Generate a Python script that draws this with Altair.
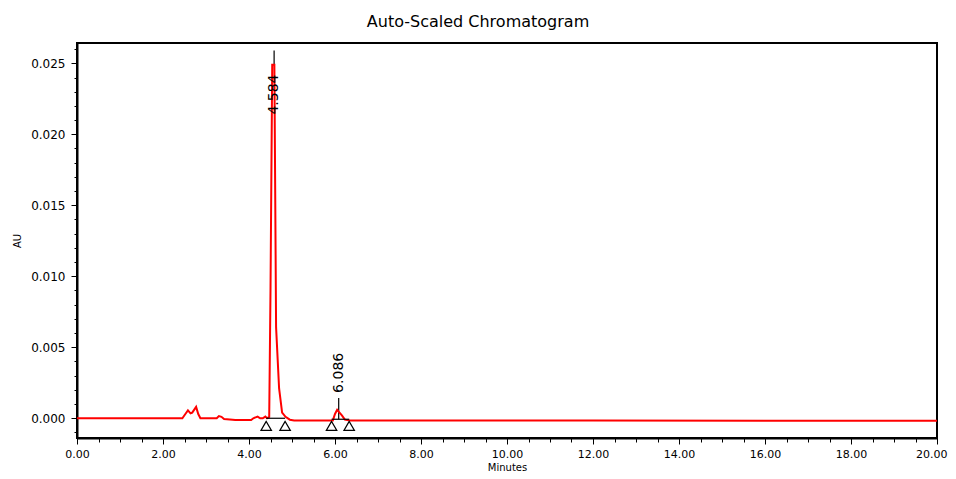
import altair as alt
import pandas as pd

# ---- trace data (minutes, AU) ----
times = [0.00, 1.00, 2.00, 2.45, 2.52, 2.58, 2.64, 2.68, 2.77, 2.82, 2.87,
         3.25, 3.30, 3.36, 3.42, 3.62, 3.68, 4.05, 4.10, 4.20, 4.26, 4.32,
         4.38, 4.42, 4.47, 4.50, 4.54, 4.59, 4.63, 4.70, 4.77, 4.85, 4.95,
         5.05, 5.50, 5.95, 6.00, 6.05, 6.09, 6.16, 6.23, 6.35, 8.00, 12.00,
         16.00, 20.00]
values = [0.0, 0.0, 0.0, 0.0, 0.0003, 0.00056, 0.00035, 0.0004, 0.0008, 0.0003, 0.0,
          0.0, 0.00015, 0.0001, -0.00005, -0.0001, -0.00012, -0.00012, 0.0, 0.00012, 0.0, 0.0,
          0.00012, 0.0, 0.0001, 0.009, 0.0249, 0.0249, 0.0064, 0.0021, 0.0004, 0.0001, -0.0001,
          -0.00015, -0.00015, -0.00015, 0.0003, 0.0006, 0.00045, 0.0002, -0.0001, -0.00015, -0.00016, -0.00016,
          -0.00017, -0.00017]

# ---- peak annotations ----
peak_labels = ["4.584", "6.086"]
peak_times = [4.584, 6.086]
peak_label_y = [0.0228, 0.0032]
peak_rule_top = [0.0259, 0.00143]
peak_rule_bottom = [0.0249, -0.00007]

seg_start = [4.40, 5.92]
seg_end = [4.84, 6.33]
seg_y = [0.0, -0.00007]

marker_times = [4.40, 4.84, 5.92, 6.33]
marker_y = [-0.00054, -0.00054, -0.00054, -0.00054]

x_tick_values = [i * 0.5 for i in range(41)]
y_tick_values = [round(-0.001 + i * 0.001, 3) for i in range(28)]

x_domain = [0, 20]
y_domain = [-0.00139, 0.02643]

trace = pd.DataFrame({"t": times, "v": values})
peaks = pd.DataFrame({"label": peak_labels, "t": peak_times, "ly": peak_label_y,
                      "top": peak_rule_top, "bot": peak_rule_bottom})
segs = pd.DataFrame({"t0": seg_start, "t1": seg_end, "y": seg_y})
markers = pd.DataFrame({"t": marker_times, "y": marker_y})

FONT = "DejaVu Sans"

xscale = alt.Scale(domain=x_domain, nice=False, zero=False)
yscale = alt.Scale(domain=y_domain, nice=False, zero=False)

x_axis = alt.Axis(
    title="Minutes", values=x_tick_values,
    labelExpr="datum.value % 2 === 0 ? format(datum.value, '.2f') : ''",
    tickSize={"condition": {"test": "datum.value % 2 === 0", "value": 6}, "value": 4},
    labelAlign={"condition": {"test": "datum.value === 20", "value": "right"}, "value": "center"},
    labelOffset={"condition": {"test": "datum.value === 20", "value": 10}, "value": 0},
    labelOverlap=False, labelFlush=False, grid=False,
    domainColor="black", domainWidth=2, tickColor="black",
    labelFont=FONT, labelFontSize=11, labelColor="black", labelPadding=4,
    titleFont=FONT, titleFontSize=10, titleFontWeight="normal", titleColor="black",
    titlePadding=3,
)
y_axis = alt.Axis(
    title="AU", values=y_tick_values,
    labelExpr="abs(round(datum.value*1000)) % 5 === 0 ? format(datum.value, '.3f') : ''",
    tickSize={"condition": {"test": "abs(round(datum.value*1000)) % 5 === 0", "value": 6}, "value": 3},
    labelOverlap=False, labelFlush=False, grid=False,
    domainColor="black", domainWidth=2, tickColor="black",
    labelFont=FONT, labelFontSize=12, labelColor="black", labelPadding=6,
    titleFont=FONT, titleFontSize=10, titleFontWeight="normal", titleColor="black",
    titlePadding=8,
)

rules = alt.Chart(peaks).mark_rule(color="black", strokeWidth=1.2).encode(
    x=alt.X("t:Q", scale=xscale, axis=x_axis),
    y=alt.Y("top:Q", scale=yscale, axis=y_axis),
    y2="bot:Q",
)

line = alt.Chart(trace).mark_line(color="#ff0000", strokeWidth=2, interpolate="linear").encode(
    x=alt.X("t:Q", scale=xscale, axis=x_axis),
    y=alt.Y("v:Q", scale=yscale, axis=y_axis),
)

base_segs = alt.Chart(segs).mark_rule(color="black", strokeWidth=1.2).encode(
    x=alt.X("t0:Q", scale=xscale, axis=x_axis),
    x2="t1:Q",
    y=alt.Y("y:Q", scale=yscale, axis=y_axis),
)

tris = alt.Chart(markers).mark_point(shape="triangle-up", filled=False, color="black",
                                     size=110, strokeWidth=1.2, opacity=1).encode(
    x=alt.X("t:Q", scale=xscale, axis=x_axis),
    y=alt.Y("y:Q", scale=yscale, axis=y_axis),
)

labels = alt.Chart(peaks).mark_text(angle=270, font=FONT, fontSize=14, color="black",
                                    align="center", baseline="middle").encode(
    x=alt.X("t:Q", scale=xscale, axis=x_axis),
    y=alt.Y("ly:Q", scale=yscale, axis=y_axis),
    text="label:N",
)

chart = alt.layer(rules, line, base_segs, tris, labels).properties(
    width=860, height=395,
    title=alt.TitleParams("Auto-Scaled Chromatogram", font=FONT, fontSize=16,
                          fontWeight="normal", color="black", anchor="middle",
                          offset=13, dx=-29),
    autosize=alt.AutoSizeParams(type="none"),
    padding={"left": 69, "top": 35, "right": 11, "bottom": 33},
).configure_view(stroke="black", strokeWidth=2)

chart.save("out.html", embed_options={"renderer": "svg", "actions": False})
